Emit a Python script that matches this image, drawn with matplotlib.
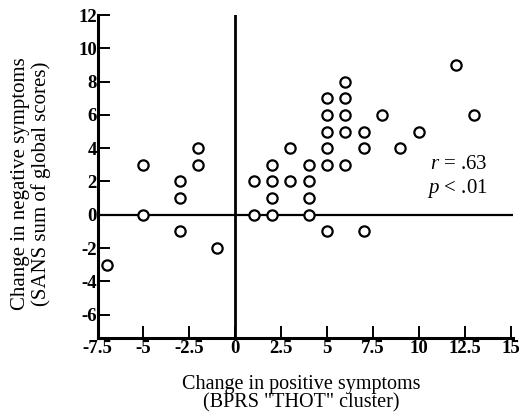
import matplotlib
matplotlib.use("Agg")
import matplotlib.pyplot as plt

plt.rcParams['font.family'] = ['Liberation Serif', 'DejaVu Serif']
plt.rcParams['mathtext.fontset'] = 'custom'
plt.rcParams['mathtext.rm'] = 'Liberation Serif'
plt.rcParams['mathtext.it'] = 'Liberation Serif:italic'

# Data
pos_change = [-7, -5, -5, -3, -3, -3, -2, -2, -1,
              1, 1, 2, 2, 2, 2, 3, 3, 4, 4, 4, 4,
              5, 5, 5, 5, 5, 5, 6, 6, 6, 6, 6,
              7, 7, 7, 8, 9, 10, 12, 13]
neg_change = [-3, 3, 0, 2, 1, -1, 4, 3, -2,
              2, 0, 3, 2, 1, 0, 4, 2, 3, 2, 1, 0,
              7, 6, 5, 4, 3, -1, 8, 7, 6, 5, 3,
              5, 4, -1, 6, 4, 5, 9, 6]
x_ticks = [-7.5, -5, -2.5, 0, 2.5, 5, 7.5, 10, 12.5, 15]
x_tick_labels = ["-7.5", "-5", "-2.5", "0", "2.5", "5", "7.5", "10", "12.5", "15"]
y_ticks = [-6, -4, -2, 0, 2, 4, 6, 8, 10, 12]
y_tick_labels = ["-6", "-4", "-2", "0", "2", "4", "6", "8", "10", "12"]
stats_lines = [r"$r$ = .63", r"$p$ < .01"]
x_label = 'Change in positive symptoms\n(BPRS "THOT" cluster)'
y_label = 'Change in negative symptoms\n(SANS sum of global scores)'

W, H = 526, 413
fig = plt.figure(figsize=(W / 100, H / 100), dpi=100)
left_px, right_px, top_px, bottom_px = 97.5, 512.5, 15, 338
ax = fig.add_axes([left_px / W, 1 - bottom_px / H,
                   (right_px - left_px) / W, (bottom_px - top_px) / H])

ax.set_xlim(-7.5, 15.1)
ax.set_ylim(-7.4, 12)

ax.axhline(0, color='black', lw=1.6, zorder=1)
ax.axvline(0, color='black', lw=2.0, zorder=1)

ax.plot(pos_change, neg_change, linestyle='none', marker='o', ms=7.4,
        mfc='white', mec='black', mew=1.6, zorder=3)

for s in ['top', 'right']:
    ax.spines[s].set_visible(False)
ax.spines['left'].set_linewidth(2.2)
ax.spines['bottom'].set_linewidth(2.2)

ax.set_xticks(x_ticks)
ax.set_xticklabels(x_tick_labels)
ax.set_yticks(y_ticks)
ax.set_yticklabels(y_tick_labels)
ax.tick_params(axis='both', direction='in', length=8.5, width=1.4,
               labelsize=13.5, pad=1.5)
ax.tick_params(axis='y', pad=0.5)
for lab in ax.get_xticklabels() + ax.get_yticklabels():
    lab.set_fontweight('bold')

ax.text(13.75, 3.0, stats_lines[0], ha='right', va='center', fontsize=15)
ax.text(13.75, 1.6, stats_lines[1], ha='right', va='center', fontsize=15)

fig.text(301 / W, 1 - 394 / H, x_label, ha='center', va='center',
         fontsize=14.5, linespacing=0.92, multialignment='center')
fig.text(31 / W, 1 - 184 / H, y_label, ha='center', va='center',
         rotation=90, fontsize=15, linespacing=1.05, multialignment='center')

fig.savefig("out.png", dpi=100)
